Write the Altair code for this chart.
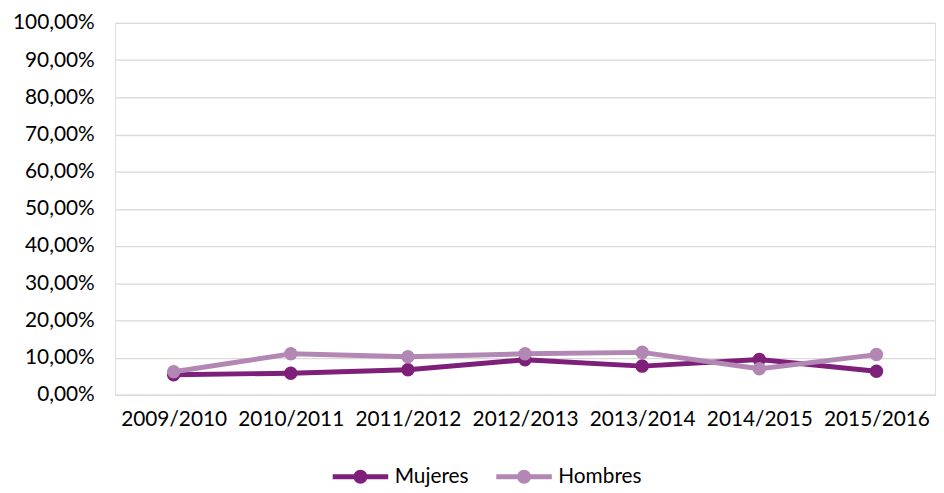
import altair as alt
import pandas as pd

years = ["2009/2010", "2010/2011", "2011/2012", "2012/2013", "2013/2014", "2014/2015", "2015/2016"]
mujeres = [5.4, 5.8, 6.7, 9.4, 7.7, 9.5, 6.3]
hombres = [6.2, 11.0, 10.2, 11.0, 11.4, 7.0, 10.8]
series = ["Mujeres", "Hombres"]
colors = ["#7E1F79", "#B387B4"]
y_ticks = [0, 10, 20, 30, 40, 50, 60, 70, 80, 90, 100]

rows = []
for s, vals in zip(series, [mujeres, hombres]):
    for i, (y, v) in enumerate(zip(years, vals)):
        rows.append({"Curso": y, "Valor": v, "Serie": s, "ord": series.index(s)})
df = pd.DataFrame(rows)

# line with a dot in the middle, extending to the left of the nominal symbol box
legend_path = ("M-4,0 A1,1 0 1,1 -2,0 A1,1 0 1,1 -4,0 Z "
               "M-7,-0.36 L1,-0.36 L1,0.36 L-7,0.36 Z")

FONT = "Lato"

x = alt.X("Curso:N", sort=years, title=None,
          scale=alt.Scale(paddingInner=0, paddingOuter=0.5),
          axis=alt.Axis(labelAngle=0, ticks=False, domain=False, grid=False,
                        labelFont=FONT, labelFontSize=21, labelColor="#000000",
                        labelPadding=14))
y = alt.Y("Valor:Q", title=None,
          scale=alt.Scale(domain=[0, 100], nice=False),
          axis=alt.Axis(values=y_ticks, ticks=False, domain=False,
                        gridColor="#D9D9D9", gridWidth=1.3,
                        labelExpr="replace(format(datum.value, '.2f'), '.', ',') + '%'",
                        labelFont=FONT, labelFontSize=21, labelColor="#000000",
                        labelPadding=21))
color = alt.Color("Serie:N", scale=alt.Scale(domain=series, range=colors),
                  legend=alt.Legend(title=None, orient="none", direction="horizontal",
                                    legendX=258, legendY=447,
                                    symbolType=legend_path, symbolSize=196,
                                    symbolStrokeWidth=0, symbolOpacity=1,
                                    labelFont=FONT, labelFontSize=21, labelColor="#000000",
                                    columnPadding=27, labelOffset=3))

base = alt.Chart(df).encode(x=x, y=y, color=color, order=alt.Order("ord:Q"))
lines = base.mark_line(strokeWidth=5, strokeJoin="round")
points = base.mark_circle(size=185, opacity=1)

chart = alt.layer(lines, points).properties(
    width=827, height=375,
    autosize=alt.AutoSizeParams(type="none"),
    padding={"left": 108, "top": 13, "right": 1, "bottom": 95},
).configure_view(stroke=None).configure(background="#FFFFFF")

chart.save("out.html", embed_options={"renderer": "svg", "actions": False})
